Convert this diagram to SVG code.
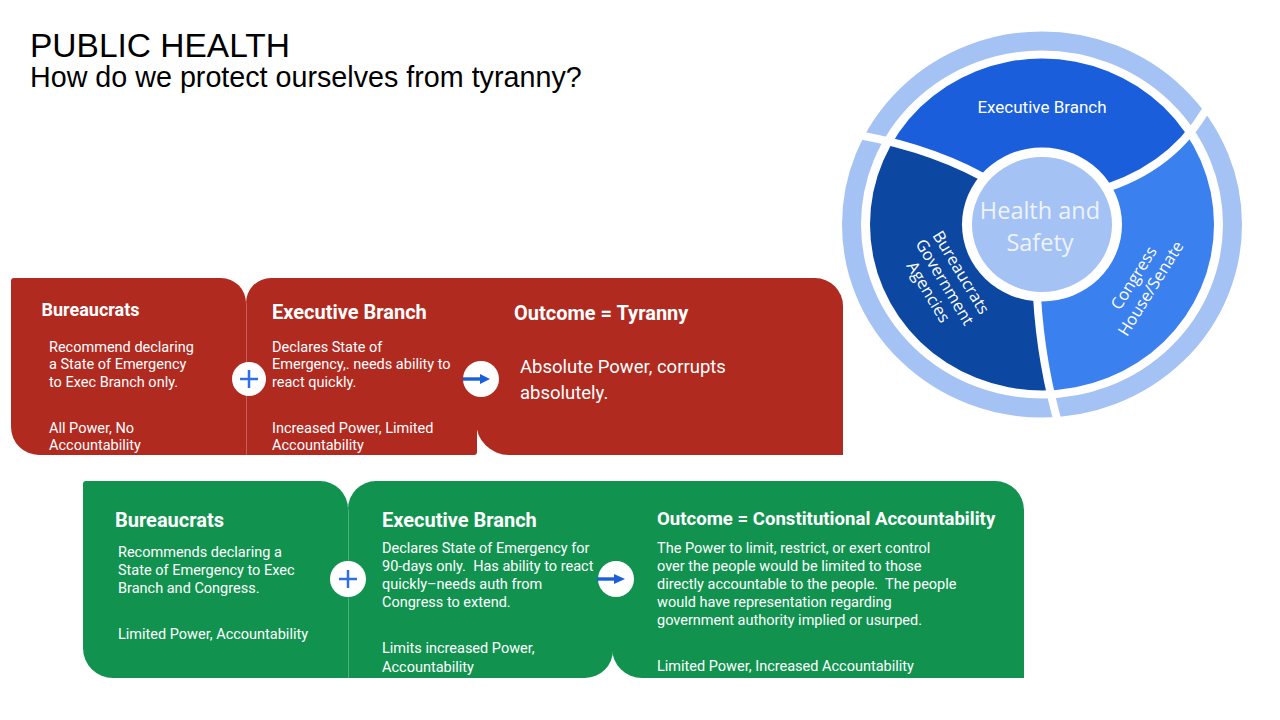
<svg xmlns="http://www.w3.org/2000/svg" width="1280" height="720" viewBox="0 0 1280 720">
<defs>
<style>
.title{font-family:"Liberation Sans",Arial,sans-serif;fill:#000}
.t{font-family:Roboto,"Liberation Sans",sans-serif;fill:#fff}
.h{font-weight:700}
.b{font-size:14.5px}
.red{fill:#b02a20}
.green{fill:#11934f}
.div{stroke:#fff;stroke-opacity:0.25;stroke-width:1}
.ic{fill:#fff}
.plus{stroke:#2e6fe5;stroke-width:2.5;fill:none}
.arr{stroke:#1a5fd9;stroke-width:3.4;fill:none}
.ah{fill:#1a5fd9}
.seg{font-family:"Open Sans","Noto Sans",sans-serif;fill:#fff}
.gap{stroke:#fff;stroke-width:8;fill:none}
</style>
<clipPath id="segclip"><ellipse cx="0" cy="0" rx="172" ry="166"/></clipPath>
</defs>
<rect width="1280" height="720" fill="#fff"/>

<g id="title">
<text class="title" x="30" y="57" font-size="33.5">PUBLIC HEALTH</text>
<text class="title" x="30" y="87" font-size="28.7">How do we protect ourselves from tyranny?</text>
</g>

<g id="cycle" transform="translate(1042,224.5)">
<ellipse cx="0" cy="0" rx="190.5" ry="183.5" fill="none" stroke="#a4c2f4" stroke-width="19"/>
<g clip-path="url(#segclip)">
<path id="seg-exec" fill="#1a5edb" d="M0,0 L-60,-48 Q-121,-81 -205,-93 L-300,-110 L-300,-300 L300,-300 L260,-200 L172,-130 Q140,-62 66,-37 Z"/>
<path id="seg-congress" fill="#3a80ee" d="M0,0 L66,-37 Q140,-62 172,-130 L260,-200 L300,300 L40,300 L18,205 Q-1,140 -5,72 Z"/>
<path id="seg-bureau" fill="#0c47a1" d="M0,0 L-5,72 Q-1,140 18,205 L40,300 L-300,300 L-300,-110 L-205,-93 Q-121,-81 -60,-48 Z"/>
</g>
<path class="gap" d="M0,0 L-60,-48 Q-121,-81 -205,-93"/>
<path class="gap" d="M0,0 L66,-37 Q140,-62 172,-130"/>
<path class="gap" d="M0,0 L-5,72 Q-1,140 18,205"/>
<ellipse cx="0" cy="0" rx="80" ry="77" fill="#fff"/>
<ellipse cx="0" cy="0" rx="70" ry="67.5" fill="#a4c2f4"/>
</g>
<g id="cycle-labels">
<text class="t" x="1042" y="113" font-size="17" text-anchor="middle">Executive Branch</text>
<text class="seg" x="1040" y="219" font-size="23.5" text-anchor="middle" style="fill:#eef3fd">Health and</text>
<text class="seg" x="1040" y="251" font-size="23.5" text-anchor="middle" style="fill:#eef3fd">Safety</text>
<g transform="translate(945,282) rotate(59)">
<text class="seg" x="0" y="-13" font-size="16.5" text-anchor="middle">Bureaucrats</text>
<text class="seg" x="0" y="6" font-size="16.5" text-anchor="middle">Government</text>
<text class="seg" x="0" y="25" font-size="16.5" text-anchor="middle">Agencies</text>
</g>
<g transform="translate(1142,283) rotate(-58)">
<text class="seg" x="0" y="-4" font-size="16.5" text-anchor="middle">Congress</text>
<text class="seg" x="0" y="16" font-size="16.5" text-anchor="middle">House/Senate</text>
</g>
</g>

<g id="red-row">
<g id="red-bureaucrats">
<path class="red" d="M14,278 H221 A25,25 0 0 1 246,303 V455 H39 A28,28 0 0 1 11,427 V281 A3,3 0 0 1 14,278 Z"/>
<text class="t h" x="41.5" y="316" font-size="18">Bureaucrats</text>
<text class="t b" x="49" y="351.5">Recommend declaring</text>
<text class="t b" x="49" y="369">a State of Emergency</text>
<text class="t b" x="49" y="386.5">to Exec Branch only.</text>
<text class="t b" x="49" y="432.5">All Power, No</text>
<text class="t b" x="49" y="450">Accountability</text>
</g>
<g id="red-executive">
<path class="red" d="M246,303 A25,25 0 0 1 271,278 H477 V452 A3,3 0 0 1 474,455 H246 Z"/>
<line class="div" x1="246.5" y1="303" x2="246.5" y2="455"/>
<text class="t h" x="272" y="319" font-size="20">Executive Branch</text>
<text class="t b" x="272" y="351.5">Declares State of</text>
<text class="t b" x="272" y="369">Emergency,. needs ability to</text>
<text class="t b" x="272" y="386.5">react quickly.</text>
<text class="t b" x="272" y="432.5">Increased Power, Limited</text>
<text class="t b" x="272" y="450">Accountability</text>
</g>
<g id="red-outcome">
<path class="red" d="M476,278 H815 A28,28 0 0 1 843,306 V455 H509 A33,33 0 0 1 476,422 Z"/>
<text class="t h" x="514" y="320" font-size="20">Outcome = Tyranny</text>
<text class="t" x="520" y="373" font-size="18.5">Absolute Power, corrupts</text>
<text class="t" x="520" y="399" font-size="18.5">absolutely.</text>
</g>
</g>

<g id="green-row">
<g id="green-bureaucrats">
<path class="green" d="M86,481 H320 A28,28 0 0 1 348,509 V678 H113 A30,30 0 0 1 83,648 V484 A3,3 0 0 1 86,481 Z"/>
<text class="t h" x="115" y="527" font-size="20">Bureaucrats</text>
<text class="t b" x="118" y="557">Recommends declaring a</text>
<text class="t b" x="118" y="575">State of Emergency to Exec</text>
<text class="t b" x="118" y="593">Branch and Congress.</text>
<text class="t b" x="118" y="639">Limited Power, Accountability</text>
</g>
<g id="green-executive">
<path class="green" d="M348,509 A28,28 0 0 1 376,481 H613 V650 A28,28 0 0 1 585,678 H348 Z"/>
<line class="div" x1="348.5" y1="509" x2="348.5" y2="678"/>
<text class="t h" x="382" y="527" font-size="20">Executive Branch</text>
<text class="t b" x="382" y="553">Declares State of Emergency for</text>
<text class="t b" x="382" y="571" style="white-space:pre">90-days only.  Has ability to react</text>
<text class="t b" x="382" y="589">quickly–needs auth from</text>
<text class="t b" x="382" y="607">Congress to extend.</text>
<text class="t b" x="382" y="653">Limits increased Power,</text>
<text class="t b" x="382" y="672">Accountability</text>
</g>
<g id="green-outcome">
<path class="green" d="M612,481 H995 A29,29 0 0 1 1024,510 V678 H642 A30,30 0 0 1 612,648 Z"/>
<text class="t h" x="657" y="525" font-size="18.6">Outcome = Constitutional Accountability</text>
<text class="t b" x="657" y="553">The Power to limit, restrict, or exert control</text>
<text class="t b" x="657" y="571">over the people would be limited to those</text>
<text class="t b" x="657" y="589" style="white-space:pre">directly accountable to the people.  The people</text>
<text class="t b" x="657" y="607">would have representation regarding</text>
<text class="t b" x="657" y="625">government authority implied or usurped.</text>
<text class="t b" x="657" y="671">Limited Power, Increased Accountability</text>
</g>
</g>

<g id="connectors">
<g id="red-plus">
<circle class="ic" cx="249" cy="379" r="17"/>
<path class="plus" d="M240,379 H258 M249,370 V388"/>
</g>
<g id="red-arrow">
<circle class="ic" cx="481" cy="379" r="18"/>
<path class="arr" d="M463,379 H483"/>
<polygon class="ah" points="480,374 490,379 480,384"/>
</g>
<g id="green-plus">
<circle class="ic" cx="348" cy="579" r="18"/>
<path class="plus" d="M339,579 H357 M348,570 V588"/>
</g>
<g id="green-arrow">
<circle class="ic" cx="616" cy="579" r="18"/>
<path class="arr" d="M597,579 H617"/>
<polygon class="ah" points="614,574 625,579 614,584"/>
</g>
</g>
</svg>
